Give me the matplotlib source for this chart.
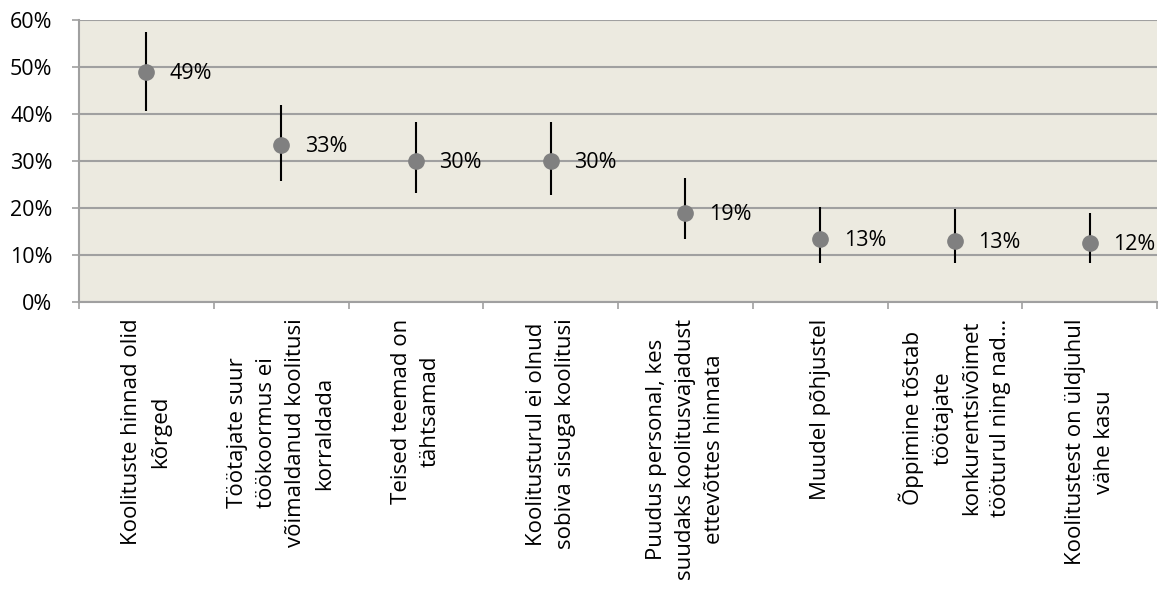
import matplotlib
matplotlib.use("Agg")
import matplotlib.pyplot as plt
import numpy as np

categories = [
    "Koolituste hinnad olid\nkõrged",
    "Töötajate suur\ntöökoormus ei\nvõimaldanud koolitusi\nkorraldada",
    "Teised teemad on\ntähtsamad",
    "Koolitusturul ei olnud\nsobiva sisuga koolitusi",
    "Puudus personal, kes\nsuudaks koolitusvajadust\nettevõttes hinnata",
    "Muudel põhjustel",
    "Õppimine tõstab\ntöötajate\nkonkurentsivõimet\ntööturul ning nad…",
    "Koolitustest on üldjuhul\nvähe kasu",
]
values = [48.9, 33.3, 30.0, 29.9, 19.0, 13.3, 13.0, 12.6]
upper = [57.4, 41.9, 38.3, 38.2, 26.3, 20.2, 19.7, 19.0]
lower = [40.6, 25.7, 23.1, 22.8, 13.4, 8.4, 8.4, 8.2]
labels = ["49%", "33%", "30%", "30%", "19%", "13%", "13%", "12%"]
yticks = [0, 10, 20, 30, 40, 50, 60]

plt.rcParams['font.family'] = ['Open Sans', 'DejaVu Sans']
FS = 15.5

fig = plt.figure(figsize=(11.62, 5.92), dpi=100)
ax = fig.add_axes([79/1162, 1-302/592, (1157-79)/1162, (302-20)/592])
ax.set_facecolor('#ECEAE0')

x = np.arange(len(categories))
vals = np.array(values)
err = [vals - np.array(lower), np.array(upper) - vals]

ax.errorbar(x, vals, yerr=err, fmt='none', ecolor='black', elinewidth=1.5, capsize=0, zorder=3)
ax.plot(x, vals, 'o', color='#808080', markersize=11, zorder=4, linestyle='none')
for xi, v, lab in zip(x, vals, labels):
    ax.annotate(lab, (xi, v), xytext=(17, -1), textcoords='offset points',
                ha='left', va='center', fontsize=FS, color='black', zorder=5)

ax.set_xlim(-0.5, len(categories) - 0.5)
ax.set_ylim(0, 60)
ax.set_yticks(yticks)
ax.set_yticklabels([f"{t}%" for t in yticks], fontsize=FS)
ax.yaxis.grid(True, color='#A0A0A0', linewidth=1.5)
ax.set_axisbelow(True)

ax.set_xticks(x)
ax.set_xticklabels(categories, rotation=90, ha='center', va='top', multialignment='center',
                   fontsize=16, linespacing=1.5)
ax.set_xticks(np.arange(-0.5, len(categories)), minor=True)
ax.tick_params(axis='x', which='major', length=0, pad=12)
ax.tick_params(axis='x', which='minor', length=5, color='#A0A0A0', width=1.2, direction='out')
ax.tick_params(axis='y', length=5, color='#A0A0A0', width=1.2, pad=14)

for s in ['top', 'right']:
    ax.spines[s].set_visible(False)
for s in ['left', 'bottom']:
    ax.spines[s].set_color('#A0A0A0')
    ax.spines[s].set_linewidth(1.5)

fig.savefig('out.png', dpi=100)
